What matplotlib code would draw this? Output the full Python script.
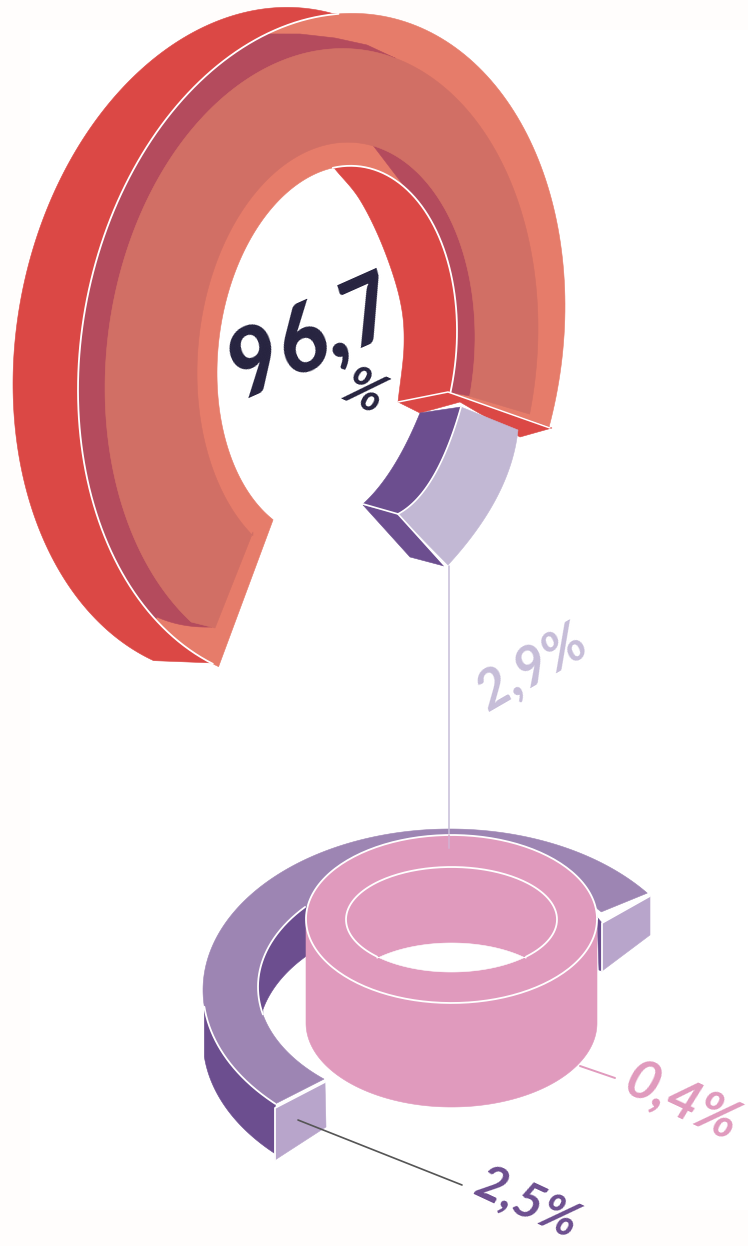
import numpy as np
import matplotlib
matplotlib.use("Agg")
import matplotlib.pyplot as plt
from matplotlib.patches import Polygon, Rectangle

# values printed on the chart
shares = [96.7, 2.9, 0.4, 2.5]
share_colors = ['#26233f', '#c6bdd8', '#e09abd', '#6c4e8f']

RED = '#db4845'
ROSE = '#b44b5d'
FACE = '#d16f65'
SALMON = '#e67c6a'
DARK_PURPLE = '#6c4e8f'
LAVENDER = '#9d85b3'
BOX = '#b8a5cb'
LILAC = '#c2b8d4'
PINK = '#e09abd'

# ellipses: cx, cy, half width, tilt, half height
OUTER = (321.5, 348, 243.5, -42, 332)
HOLE = (337, 352, 120, -21, 185)
FACE_OUT = (321.5, 358, 216.5, -30, 308)
FACE_IN = (336, 355, 139, -18, 212)
DEPTH = (-65, -6)

RING_OUT = (450, 990, 247, 0, 161)
RING_IN = (450, 987, 192, 0, 122)
TUBE_OUT = (451.5, 919, 145.5, 0, 84)
TUBE_IN = (451.5, 919.5, 105.5, 0, 52.5)
TUBE_H = 104
WALL_H = 50


def arc(e, a0, a1, shift=(0, 0), n=200):
    t = np.radians(np.linspace(a0, a1, n))
    x = e[0] + e[2] * np.cos(t) + shift[0]
    y = e[1] + e[3] * np.cos(t) + e[4] * np.sin(t) + shift[1]
    return np.column_stack([x, y])


def spline(pts, n=24):
    # catmull-rom through the points
    p = np.array(pts, dtype=float)
    p = np.vstack([2 * p[0] - p[1], p, 2 * p[-1] - p[-2]])
    out = []
    for i in range(1, len(p) - 2):
        for u in np.linspace(0, 1, n, endpoint=False):
            out.append(0.5 * (2 * p[i] + (p[i + 1] - p[i - 1]) * u
                              + (2 * p[i - 1] - 5 * p[i] + 4 * p[i + 1] - p[i + 2]) * u ** 2
                              + (3 * p[i] - p[i - 1] - 3 * p[i + 1] + p[i + 2]) * u ** 3))
    out.append(p[-2])
    return np.array(out)


def bend(a, m, c, n=40):
    # parabola from a to c that passes through m
    a, m, c = [np.array(v, dtype=float) for v in (a, m, c)]
    ctrl = 2 * m - (a + c) / 2
    u = np.linspace(0, 1, n)[:, None]
    return (1 - u) ** 2 * a + 2 * u * (1 - u) * ctrl + u ** 2 * c


def fill(ax, color, *parts):
    ax.add_patch(Polygon(np.vstack(parts), closed=True, fc=color, ec=color, lw=0.4))


def line(ax, pts, color='white', lw=1.3):
    pts = np.array(pts)
    ax.plot(pts[:, 0], pts[:, 1], color=color, lw=lw, solid_capstyle='round')


fig = plt.figure(figsize=(7.48, 12.46), dpi=100, facecolor='#fffdfc')
ax = fig.add_axes([0, 0, 1, 1])
ax.set_xlim(0, 748)
ax.set_ylim(1246, 0)
ax.axis('off')
ax.add_patch(Rectangle((30, 30), 718, 1180, fc='white', ec='none'))

# big ring
back_edge = spline([(335, 169), (360, 200), (383, 247), (400, 300), (404, 345), (398, 402)])
fill(ax, RED, arc(OUTER, -72, -245, DEPTH), arc(OUTER, -243, -86))
fill(ax, RED, back_edge, arc(HOLE, 19, -92))
fill(ax, SALMON, arc(OUTER, 21, -245), [(273, 520)], arc(HOLE, -237.8, 19))

rose_left = bend((157, 617), (183, 625), (212, 627))
fill(ax, ROSE, arc(OUTER, -227, -103), [(300, 34), (335, 38), (367, 45)], arc(FACE_OUT, -70, -233), rose_left[::-1])
fill(ax, ROSE, [(372, 144)], arc(HOLE, -55, 19), [(470, 396)], arc(FACE_IN, 10, -72))
fill(ax, FACE, arc(FACE_OUT, 16, -233), [(215, 628), (253, 532)], arc(FACE_IN, -233.3, 16))

line(ax, arc(OUTER, -243.5, -86))
line(ax, arc(HOLE, -92, 19))

# cut end of the big ring
fill(ax, RED, [(398, 402), (448, 392), (552, 428), (520, 437), (460, 402), (420, 413)])
line(ax, [(398, 402), (448, 392), (550, 428)], lw=1.1)

# slice pulled out
slice_in = bend((461, 407), (433, 477), (398, 514))
slice_back = bend((420, 413), (393, 467), (363, 504))
slice_out = bend((518, 430), (497, 497), (448, 565))
fill(ax, DARK_PURPLE, slice_back, [(398, 514)], slice_in[::-1])
fill(ax, DARK_PURPLE, [(363, 505), (398, 514), (444, 566), (410, 557)])
fill(ax, LILAC, slice_in, slice_out[::-1])
line(ax, slice_in, lw=1.2)
line(ax, [(363, 504), (398, 514), (445, 566)], lw=1.2)
line(ax, [(449, 566), (449, 848)], color='#c6bdd8', lw=1.1)

# lower ring: walls first, then top face
fill(ax, DARK_PURPLE, arc(RING_IN, -130, -193), arc(RING_IN, -167, -130, (0, WALL_H)))
fill(ax, DARK_PURPLE, arc(RING_OUT, -186, -225), arc(RING_OUT, -225, -186, (0, WALL_H)))
fill(ax, DARK_PURPLE, [(597, 917), (602, 923), (602, 971), (599, 970)])
fill(ax, LAVENDER, arc(RING_OUT, -37, -225), arc(RING_IN, -229, -38))
fill(ax, BOX, [(602, 923), (650, 896), (650, 935), (602, 971)])
fill(ax, BOX, [(275, 1108), (325, 1082), (326, 1127), (275, 1160)])
line(ax, arc(RING_OUT, -186, -225))
line(ax, arc(RING_IN, -139, -193))
line(ax, [(325, 1082), (275, 1108), (275, 1160)])
line(ax, [(602, 971), (602, 923), (650, 896)])

# pink tube
fill(ax, PINK, arc(TUBE_OUT, 180, 360), arc(TUBE_OUT, 0, 180, (0, TUBE_H)))
fill(ax, 'white', arc(TUBE_IN, 45, 135), arc(TUBE_IN, -135, -45, (0, 76)))
line(ax, arc(TUBE_OUT, 0, 360))
line(ax, arc(TUBE_IN, 135, 405))
line(ax, [(449, 835), (449, 848)], color='#d9a9cc', lw=1.1)

# leaders
line(ax, [(580, 1066), (615, 1078)], color=PINK, lw=1.4)
line(ax, [(298, 1120), (462, 1185)], color='#555555', lw=1.2)

# labels
pct = lambda v: ('%.1f' % v).replace('.', ',')
font = dict(family='Lato', style='italic', ha='center', va='center', rotation_mode='anchor')
ax.text(313, 338, pct(shares[0]), color=share_colors[0], fontsize=66, weight='black', rotation=24, **font)
ax.text(363, 392, '%', color=share_colors[0], fontsize=38, weight='bold', rotation=-25, **font)
ax.text(532, 667, pct(shares[1]) + '%', color=share_colors[1], fontsize=40, weight='bold', rotation=30, **font)
ax.text(682, 1102, pct(shares[2]) + '%', color=share_colors[2], fontsize=40, weight='bold', rotation=-25, **font)
ax.text(527, 1203, pct(shares[3]) + '%', color=share_colors[3], fontsize=36, weight='bold', rotation=-25, **font)

fig.savefig('out.png', dpi=100, facecolor=fig.get_facecolor())
